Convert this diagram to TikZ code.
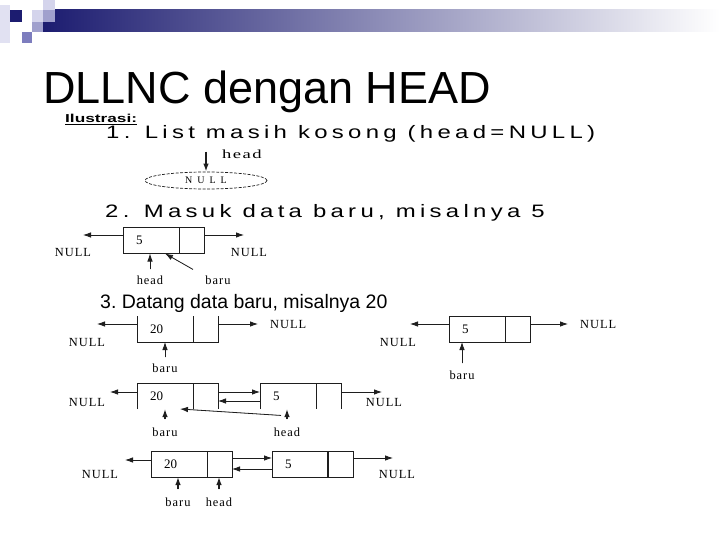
\documentclass[tikz,border=0pt]{standalone}
\usepackage{fontspec}
\usepackage{graphicx}
\setmainfont{Liberation Serif}
\newfontfamily\slidefont{Liberation Sans}
\newfontfamily\widefont[LetterSpace=18]{Liberation Sans}
\newfontfamily\scanfont[LetterSpace=8]{Liberation Serif}
\usetikzlibrary{positioning, arrows.meta, shapes.geometric}

\definecolor{slidenavy}{RGB}{28,28,112}
\definecolor{capsulelight}{RGB}{212,212,236}
\definecolor{capsulemid}{RGB}{160,160,205}
\definecolor{capsuledark}{RGB}{125,125,190}
\definecolor{inkgrey}{RGB}{30,30,30}

\begin{document}
\begin{tikzpicture}[
    x=1pt, y=-1pt,
    >={Latex[length=8pt,width=5.5pt]},
    ptr/.style={->, line width=0.8pt, draw=inkgrey, fill=inkgrey},
    uparrow/.style={ptr, line width=1.3pt},
    datacell/.style={rectangle, outer sep=0pt, inner xsep=13pt, inner ysep=0pt,
        text width=30pt, minimum height=26pt, align=left,
        font=\fontsize{13}{13}\selectfont},
    linkcell/.style={rectangle, outer sep=0pt, inner sep=0pt,
        minimum width=25pt, minimum height=26pt},
    boxed/.style={draw=inkgrey, line width=0.8pt},
    lbl/.style={font=\scanfont\fontsize{12.4}{13}\selectfont, inner sep=0pt},
    steptitle/.style={anchor=base west, inner sep=0pt,
        font=\widefont\fontsize{18}{18}\selectfont}
]

% page and slide header
\fill[white] (0,0) rectangle (720,540);
\useasboundingbox (0,0) rectangle (720,540);
\shade[left color=slidenavy, right color=white] (43,10) rectangle (720,32);
\fill[capsulelight!70] (0,5) rectangle (10,43);
\fill[slidenavy] (10,10) rectangle (22,22);
\fill[capsulelight] (32,10) rectangle (43,22);
\fill[capsulelight] (43,0) rectangle (55,10);
\fill[capsulemid] (43,10) rectangle (55,22);
\fill[capsulemid] (32,22) rectangle (43,32);
\fill[capsuledark] (22,32) rectangle (32,43);

\node[anchor=base west, inner sep=0pt, font=\slidefont\fontsize{45}{48}\selectfont]
    (title) at (43,104) {DLLNC dengan HEAD};
\node[anchor=base west, inner sep=0pt, font=\slidefont\bfseries\fontsize{11.5}{12}\selectfont]
    (ilus) at (65,123) {\scalebox{1.5}[1]{\underline{Ilustrasi:}}};

% 1. empty list
\node[steptitle] (step1) at (106,139)
    {\scalebox{1.33}[1]{1.\hspace{0.6em}List masih kosong (head=NULL)}};
\node[ellipse, draw=inkgrey, dash pattern=on 3pt off 1.5pt, line width=0.7pt,
    minimum width=122pt, minimum height=17pt, inner sep=0pt] (empty) at (206,180.5) {};
\node[inner sep=0pt, font=\fontsize{10}{10}\selectfont] (emptytext) at (empty.center)
    {N\hspace{5pt}U\hspace{5pt}L\hspace{5pt}L};
\coordinate (head1tail) at (206,152);
\draw[ptr, line width=1.5pt] (head1tail) -- (empty.north);
\node[lbl, anchor=west] (head1) at (222,154) {\scalebox{1.5}[1]{head}};

% 2. first node
\node[steptitle] (step2) at (105,218)
    {\scalebox{1.33}[1]{2.\hspace{0.6em}Masuk data baru, misalnya 5}};
\node[datacell, boxed, anchor=west] (n5) at (123,240.5) {5};
\node[linkcell, boxed, right=0pt of n5] (n5link) {};
\coordinate (n5lnull) at (83,235);
\coordinate (n5rnull) at (244,235);
\draw[ptr] (n5.west |- n5lnull) -- (n5lnull);
\draw[ptr] (n5link.east |- n5rnull) -- (n5rnull);
\node[lbl] (n5nulla) at (73,253) {NULL};
\node[lbl] (n5nullb) at (249,253) {NULL};
\node[lbl] (head2) at (150,280) {head};
\node[lbl] (baru2) at (218,280) {baru};
\draw[ptr] ([yshift=6pt]head2.north) -- (head2.north |- n5.south);
\draw[ptr] ([shift={(-25pt,6pt)}]baru2.north) -- ([xshift=14pt]n5.south);

% 3. second node arrives
\node[anchor=base west, inner sep=0pt, font=\slidefont\fontsize{19.5}{20}\selectfont]
    (step3) at (100,308) {3.\ Datang data baru, misalnya 20};

% row 1, left: new node 20
\node[datacell, anchor=west] (a20) at (137,329) {20};
\node[linkcell, right=0pt of a20] (a20link) {};
\draw[boxed] (a20.north west) -- (a20.south west) -- (a20link.south east) -- (a20link.north east);
\draw[boxed] (a20.north east) -- (a20.south east);
\coordinate (a20lnull) at (97,324);
\coordinate (a20rnull) at (258,324);
\draw[ptr] (a20.west |- a20lnull) -- (a20lnull);
\draw[ptr] (a20link.east |- a20rnull) -- (a20rnull);
\node[lbl] (a20nulla) at (87,342) {NULL};
\node[lbl, anchor=west] (a20nullb) at (270,324) {NULL};
\node[lbl] (baru3a) at (165,368) {baru};
\draw[ptr] ([yshift=6pt]baru3a.north) -- (baru3a.north |- a20.south);

% row 1, right: node 5
\node[datacell, boxed, anchor=west] (b5) at (449,329) {5};
\node[linkcell, boxed, right=0pt of b5] (b5link) {};
\coordinate (b5lnull) at (410,324);
\coordinate (b5rnull) at (568,324);
\draw[ptr] (b5.west |- b5lnull) -- (b5lnull);
\draw[ptr] (b5link.east |- b5rnull) -- (b5rnull);
\node[lbl] (b5nulla) at (398,342) {NULL};
\node[lbl, anchor=west] (b5nullb) at (580,324) {NULL};
\node[lbl] (baru3b) at (462,375) {baru};
\draw[ptr] ([yshift=7pt]baru3b.north) -- (baru3b.north |- b5.south);

% row 2: linking 20 and 5
\node[datacell, anchor=west] (c20) at (137,396) {20};
\node[linkcell, right=0pt of c20] (c20link) {};
\node[datacell, anchor=west] (c5) at (260,396) {5};
\node[linkcell, right=0pt of c5] (c5link) {};
\draw[boxed] (c20.south west) -- (c20.north west) -- (c20link.north east) -- (c20link.south east);
\draw[boxed] (c20.north east) -- (c20.south east);
\draw[boxed] (c5.south west) -- (c5.north west) -- (c5link.north east) -- (c5link.south east);
\draw[boxed] (c5.north east) -- (c5.south east);
\draw[ptr] ([yshift=4pt]c20link.east) -- ([yshift=4pt]c5.west);
\draw[ptr] ([yshift=-5pt]c5.west) -- ([yshift=-5pt]c20link.east);
\coordinate (c20lnull) at (110,392);
\coordinate (c5rnull) at (382,392);
\draw[ptr] (c20.west |- c20lnull) -- (c20lnull);
\draw[ptr] (c5link.east |- c5rnull) -- (c5rnull);
\node[lbl] (c20null) at (87,402) {NULL};
\node[lbl] (c5null) at (384,402) {NULL};
\node[lbl] (baru3c) at (165,432) {baru};
\node[lbl] (head3c) at (287,432) {head};
\draw[uparrow] ([yshift=8pt]baru3c.north) -- (baru3c.north |- c20.south);
\draw[uparrow, dash pattern=on 2pt off 1.5pt] ([yshift=8pt]head3c.north) -- (head3c.north |- c5.south);
\draw[ptr] ([shift={(-6pt,12pt)}]head3c.north) -- ([xshift=15pt]c20.south);

% row 3: final list
\node[datacell, boxed, anchor=west] (d20) at (151,464) {20};
\node[linkcell, boxed, right=0pt of d20] (d20link) {};
\node[datacell, boxed, anchor=west] (d5) at (272,464) {5};
\node[linkcell, boxed, right=0pt of d5] (d5link) {};
\draw[line width=1.6pt, inkgrey] (d5.north east) -- (d5.south east);
\draw[ptr] ([yshift=6pt]d20link.east) -- ([yshift=6pt]d5.west);
\draw[ptr] ([yshift=-5pt]d5.west) -- ([yshift=-5pt]d20link.east);
\coordinate (d20lnull) at (125,460);
\coordinate (d5rnull) at (393,458);
\draw[ptr] (d20.west |- d20lnull) -- (d20lnull);
\draw[ptr] (d5link.east |- d5rnull) -- (d5rnull);
\node[lbl] (d20null) at (100,474) {NULL};
\node[lbl] (d5null) at (397,474) {NULL};
\node[lbl] (baru4) at (178,502) {baru};
\node[lbl] (head4) at (219,502) {head};
\draw[uparrow] ([yshift=8pt]baru4.north) -- (baru4.north |- d20.south);
\draw[uparrow] ([yshift=8pt]head4.north) -- (head4.north |- d20.south);

\end{tikzpicture}
\end{document}
